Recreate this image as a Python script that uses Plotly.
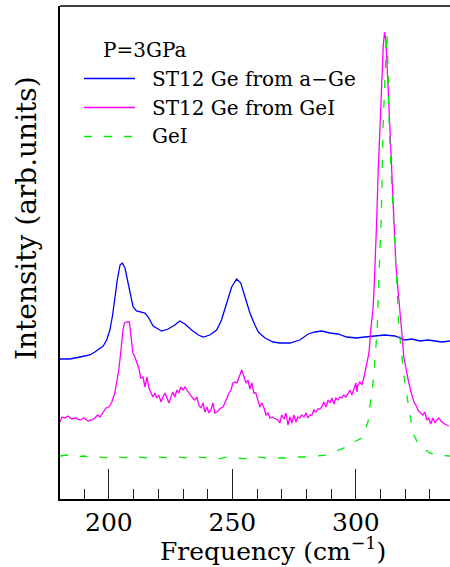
import plotly.graph_objects as go

# ST12 Ge from a-Ge (blue)
freq_aGe = [180.2, 184.2, 188.3, 192.3, 194.3, 196.4, 197.7, 199.1, 200.4, 201.5, 202.4, 203.4, 204.5, 205.4,
            206.5, 207.6, 208.8, 209.8, 211.2, 214.6, 215.9, 217.9, 220.6, 221.3, 224.0, 226.7, 228.7, 230.8,
            233.5, 236.2, 238.2, 240.9, 243.6, 245.6, 247.7, 249.7, 251.7, 253.4, 255.1, 257.1, 259.1, 260.5,
            263.2, 266.5, 269.2, 273.3, 277.3, 280.7, 283.4, 286.1, 289.5, 292.8, 296.2, 300.3, 303.6, 307.7,
            311.7, 315.8, 319.8, 322.7, 325.9, 329.2, 332.0, 334.8, 338.1]
int_aGe = [140, 140, 142, 144, 147, 151, 153, 159, 169, 184, 202, 219, 234, 236,
           231, 217, 204, 192, 188, 186, 182, 173, 169, 168, 170, 174, 178, 175,
           169, 164, 162, 164, 169, 179, 196, 212, 220, 216, 202, 186, 174, 167,
           161, 157, 156, 156, 159, 165, 167, 168, 166, 165, 162, 161, 162, 163,
           164, 163, 159, 160, 158, 159, 158, 157, 158]

# ST12 Ge from GeI (magenta)
freq_GeI_st12 = [180.2, 181.0, 182.2, 183.4, 185.0, 186.6, 188.3, 189.9, 191.5, 193.1, 194.3, 195.5, 196.4, 197.6,
                 198.8, 200.0, 201.2, 202.4, 203.2, 204.0, 204.9, 205.7, 206.3, 207.3, 208.3, 208.9, 209.7, 210.5,
                 211.3, 212.1, 212.9, 213.8, 214.6, 215.4, 216.2, 217.0, 217.8, 218.6, 219.4, 220.2, 221.1, 221.9,
                 222.7, 223.5, 224.3, 225.1, 225.9, 226.7, 227.5, 228.3, 229.1, 230.0, 230.8, 231.6, 232.4, 233.6,
                 234.8, 235.6, 236.4, 237.2, 238.1, 238.9, 239.7, 240.5, 241.3, 242.1, 242.9, 243.7, 244.5, 245.3,
                 246.2, 247.0, 247.8, 248.6, 249.4, 250.2, 251.0, 251.8, 252.6, 253.2, 253.8, 254.7, 255.5, 256.3,
                 257.1, 257.9, 258.7, 259.5, 260.3, 261.1, 261.9, 262.8, 263.6, 264.4, 265.2, 266.0, 266.8, 267.6,
                 268.4, 269.2, 270.0, 270.9, 271.7, 272.5, 273.3, 274.1, 274.9, 275.7, 276.5, 277.3, 278.1, 279.0,
                 279.8, 280.6, 281.4, 282.2, 283.0, 283.8, 284.6, 285.4, 286.2, 287.0, 287.9, 288.7, 289.5, 290.3,
                 291.1, 291.9, 292.7, 293.5, 294.3, 295.1, 295.9, 296.8, 297.6, 298.4, 299.2, 300.0, 300.4, 300.8,
                 301.6, 302.4, 303.2, 304.0, 304.9, 305.3, 306.0, 306.5, 307.0, 307.5, 307.9, 308.2, 308.4, 309.0,
                 309.7, 310.5, 311.1, 311.6, 312.1, 312.9, 313.7, 314.7, 315.4, 315.8, 316.2, 316.7, 317.7, 318.5,
                 319.4, 320.2, 321.2, 322.3, 323.5, 324.3, 325.1, 326.2, 327.1, 327.9, 328.7, 329.5, 330.3, 331.2,
                 332.0, 332.8, 333.6, 334.4, 335.2, 336.0, 336.8, 337.6]
int_GeI_st12 = [77, 82, 81, 83, 80, 81, 79, 81, 78, 79, 81, 84, 82, 86,
                91, 92, 97, 106, 116, 129, 149, 169, 176, 177, 177, 166, 146, 142,
                136, 131, 121, 122, 112, 122, 111, 107, 102, 106, 101, 104, 97, 102,
                106, 101, 96, 102, 107, 102, 109, 106, 112, 109, 112, 109, 106, 102,
                99, 102, 94, 91, 96, 87, 92, 86, 89, 96, 86, 87, 89, 91,
                92, 96, 101, 106, 109, 116, 117, 116, 121, 126, 129, 122, 116, 119,
                110, 116, 106, 106, 99, 92, 96, 91, 84, 86, 81, 82, 81, 80,
                79, 76, 84, 80, 86, 74, 82, 76, 84, 77, 82, 81, 84, 82,
                86, 81, 84, 84, 89, 87, 90, 90, 92, 97, 92, 99, 96, 101,
                95, 101, 99, 102, 101, 104, 102, 105, 109, 104, 109, 116, 107, 114,
                117, 114, 121, 131, 139, 146, 169, 184, 192, 219, 239, 264, 277, 326,
                372, 419, 454, 467, 459, 419, 372, 326, 277, 249, 234, 219, 186, 169,
                142, 131, 119, 107, 97, 94, 89, 86, 84, 87, 79, 81, 75, 81,
                76, 79, 81, 78, 76, 75, 74, 73]

# GeI (green dashed)
freq_GeI = [180.2, 183.0, 186.0, 190.0, 193.0, 196.0, 200.0, 204.0, 208.0, 212.0, 216.0, 220.0, 224.0, 228.0,
            232.0, 236.0, 240.0, 244.0, 248.0, 252.0, 256.0, 260.0, 264.0, 268.0, 272.0, 276.0, 280.0, 284.0,
            288.0, 290.3, 293.5, 296.0, 297.6, 300.0, 302.4, 304.9, 306.0, 307.2, 308.0, 308.6, 309.3, 309.9,
            310.3, 311.0, 311.8, 312.5, 313.0, 313.5, 314.3, 315.3, 315.7, 316.5, 317.5, 318.6, 319.5, 321.1,
            323.1, 325.0, 327.2, 329.9, 333.1, 338.1]
int_GeI = [43, 44, 42, 43, 41, 42, 41, 42, 41, 42, 41, 42, 41, 42,
           41, 42, 41, 40, 42, 41, 40, 42, 41, 41, 41, 42, 42, 43,
           44, 46, 49, 52, 56, 58, 61, 77, 99, 122, 149, 169, 219, 269,
           285, 372, 429, 467, 429, 372, 324, 277, 269, 219, 169, 144, 122, 96,
           66, 56, 51, 46, 44, 43]

legend_title = "P=3GPa"
legend_names = ["ST12 Ge from a−Ge", "ST12 Ge from GeI", "GeI"]
colors = ["#0000ff", "#ff00ff", "#00ee00"]

x_range = [180.2, 338.1]
y_range = [0, 493]
major_ticks = [200, 250, 300]

FONT = "DejaVu Serif"

fig = go.Figure()
fig.add_trace(go.Scatter(x=freq_aGe, y=int_aGe, mode="lines",
                         line=dict(color=colors[0], width=1.3), name=legend_names[0]))
fig.add_trace(go.Scatter(x=freq_GeI_st12, y=int_GeI_st12, mode="lines",
                         line=dict(color=colors[1], width=1.3), name=legend_names[1]))
fig.add_trace(go.Scatter(x=freq_GeI, y=int_GeI, mode="lines",
                         line=dict(color=colors[2], width=1.3, dash="8px,12px"), name=legend_names[2]))

W, H = 450, 567
ml, mr, mt, mb = 60, 0, 6, 68
pw, ph = W - ml - mr, H - mt - mb


def px2paper(px, py):
    return (px - ml) / pw, (H - mb - py) / ph


fig.update_layout(
    width=W, height=H,
    margin=dict(l=ml, r=mr, t=mt, b=mb),
    paper_bgcolor="white", plot_bgcolor="white",
    showlegend=False,
    font=dict(family=FONT, color="black"),
    xaxis=dict(range=x_range, tickmode="array", tickvals=major_ticks,
               ticktext=[str(v) for v in major_ticks],
               ticks="inside", ticklen=30, tickwidth=1.3, tickcolor="#222",
               ticklabelstandoff=0,
               minor=dict(ticks="inside", ticklen=10, dtick=10, tick0=180, tickwidth=1.3, tickcolor="#222"),
               showline=True, linecolor="black", linewidth=1.5,
               showgrid=False, zeroline=False,
               tickfont=dict(family=FONT, size=25, color="black")),
    yaxis=dict(range=y_range, showticklabels=False, ticks="",
               showline=True, linecolor="black", linewidth=1.5,
               showgrid=False, zeroline=False),
)

# top frame line
fig.add_shape(type="line", xref="paper", yref="paper", x0=0, x1=1, y0=1, y1=1,
              line=dict(color="black", width=1.5))

# axis titles as annotations
tx, ty = px2paper(273, 549)
fig.add_annotation(text="Frequency (cm<sup>−1</sup>)", xref="paper", yref="paper",
                   x=tx, y=ty, xanchor="center", yanchor="middle", showarrow=False,
                   font=dict(family=FONT, size=25, color="black"))
tx, ty = px2paper(26, 218)
fig.add_annotation(text="Intensity (arb.units)", xref="paper", yref="paper",
                   x=tx, y=ty, xanchor="center", yanchor="middle", showarrow=False,
                   textangle=-90, font=dict(family=FONT, size=28, color="black"))

# legend
tx, ty = px2paper(101, 50)
fig.add_annotation(text=legend_title, xref="paper", yref="paper", x=tx, y=ty,
                   xanchor="left", yanchor="middle", showarrow=False,
                   font=dict(family=FONT, size=20, color="black"))
legend_y = [78.5, 107.5, 136.5]
dashes = ["solid", "solid", "8px,12px"]
for name, col, ly, dsh in zip(legend_names, colors, legend_y, dashes):
    x0, y0 = px2paper(84, ly)
    x1, _ = px2paper(135, ly)
    fig.add_shape(type="line", xref="paper", yref="paper", x0=x0, x1=x1, y0=y0, y1=y0,
                  line=dict(color=col, width=1.5, dash=dsh))
    tx, ty = px2paper(150, ly)
    fig.add_annotation(text=name, xref="paper", yref="paper", x=tx, y=ty,
                       xanchor="left", yanchor="middle", showarrow=False,
                       font=dict(family=FONT, size=20, color="black"))

fig.write_html("out.html", config={"displayModeBar": False},
               post_script="document.body.style.margin='0';document.body.style.overflow='hidden';")
